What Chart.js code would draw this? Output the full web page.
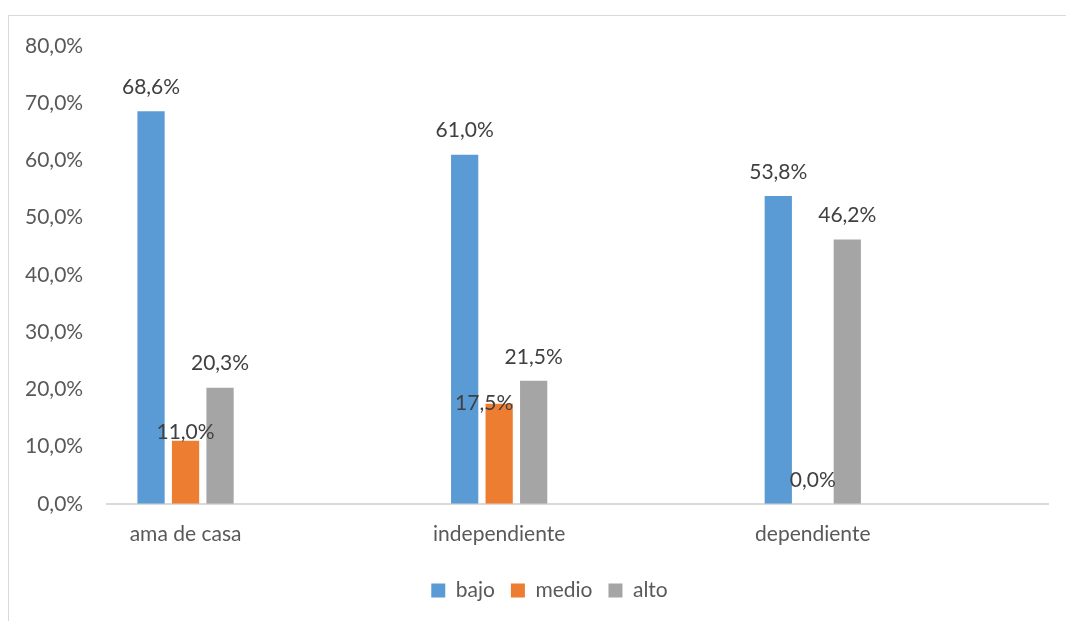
<!DOCTYPE html>
<html>
<head>
<meta charset="utf-8">
<script src="https://cdn.jsdelivr.net/npm/chart.js@4"></script>
<style>
  html, body { margin: 0; padding: 0; background: #fff; overflow: hidden; }
  #frame { position: absolute; left: 8px; top: 15px; width: 1100px; height: 700px; border: 1px solid #d9d9d9; }
  #wrap { position: absolute; left: 0; top: 0; width: 1066px; height: 621px; }
</style>
</head>
<body>
<div id="frame"></div>
<div id="wrap"><canvas id="chart"></canvas></div>
<script>
// data
const categories = ['ama de casa', 'independiente', 'dependiente'];
const seriesNames = ['bajo', 'medio', 'alto'];
const bajo = [68.6, 61.0, 53.8];
const medio = [11.0, 17.5, 0.0];
const alto = [20.3, 21.5, 46.2];
const yTicks = [0, 10, 20, 30, 40, 50, 60, 70, 80];

const colors = ['#5b9bd5', '#ed7d31', '#a5a5a5'];

// label nudges (px) where the original labels were moved by hand
const labelShift = {
  '1-0': { dx: 0, dy: 9 },
  '1-1': { dx: -15, dy: 0 }
};

const fmt = v => v.toFixed(1).replace('.', ',') + '%';
const font = "Lato, 'Open Sans', sans-serif";
const fontSize = 21;

const valueLabels = {
  id: 'valueLabels',
  afterDatasetsDraw(chart) {
    const ctx = chart.ctx;
    ctx.save();
    ctx.font = fontSize + 'px ' + font;
    ctx.fillStyle = '#404040';
    ctx.textAlign = 'center';
    ctx.textBaseline = 'middle';
    chart.data.datasets.forEach((ds, d) => {
      chart.getDatasetMeta(d).data.forEach((bar, i) => {
        const s = labelShift[d + '-' + i] || { dx: 0, dy: 24 };
        ctx.fillText(fmt(ds.data[i].y), bar.x + s.dx, bar.y - s.dy);
      });
    });
    ctx.restore();
  }
};

// the legend in the original sits a bit right of centre
const legendShift = {
  id: 'legendShift',
  afterLayout(chart) {
    chart.legend.left += 21;
    chart.legend.right += 21;
  }
};

const seriesData = [bajo, medio, alto];

new Chart(document.getElementById('chart'), {
  type: 'bar',
  data: {
    datasets: seriesNames.map((name, d) => ({
      label: name,
      data: seriesData[d].map((v, i) => ({ x: i, y: v })),
      backgroundColor: colors[d],
      categoryPercentage: 0.33,
      barPercentage: 0.79
    }))
  },
  options: {
    responsive: true,
    maintainAspectRatio: false,
    animation: false,
    layout: { padding: { left: 9, right: 18, top: 46, bottom: 10 } },
    plugins: {
      tooltip: { enabled: false },
      legend: {
        position: 'bottom',
        labels: {
          color: '#595959',
          font: { family: font, size: fontSize },
          boxWidth: 14,
          boxHeight: 14,
          padding: 16
        }
      }
    },
    scales: {
      x: {
        type: 'linear',
        offset: false,
        min: -0.25,
        max: 2.75,
        afterBuildTicks: scale => { scale.ticks = categories.map((c, i) => ({ value: i })); },
        afterFit: scale => { scale.height += 7; },
        grid: { display: false, offset: false },
        border: { color: '#d9d9d9', width: 2 },
        ticks: {
          autoSkip: false,
          maxRotation: 0,
          padding: 10,
          color: '#595959',
          font: { family: font, size: fontSize },
          callback: v => categories[v]
        }
      },
      y: {
        min: 0,
        max: 80,
        afterBuildTicks: scale => { scale.ticks = yTicks.map(v => ({ value: v })); },
        grid: { display: false },
        border: { display: false },
        ticks: {
          padding: 16,
          color: '#595959',
          font: { family: font, size: fontSize },
          callback: v => fmt(v)
        }
      }
    }
  },
  plugins: [valueLabels, legendShift]
});
</script>
</body>
</html>
